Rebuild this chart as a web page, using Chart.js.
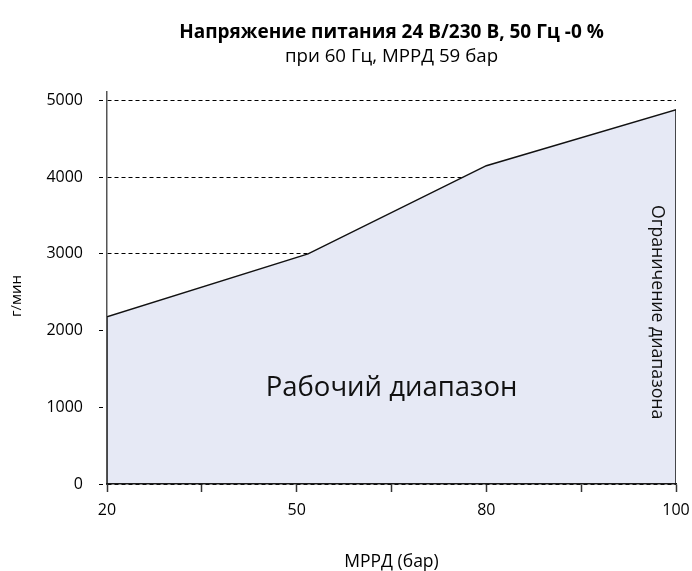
<!DOCTYPE html>
<html lang="ru">
<head>
<meta charset="utf-8">
<title>Рабочий диапазон</title>
<script src="https://cdn.jsdelivr.net/npm/chart.js@4/dist/chart.umd.min.js"></script>
<style>
  html, body { margin: 0; padding: 0; background: #ffffff; }
  #wrap { width: 692px; height: 571px; }
</style>
</head>
<body>
<div id="wrap"><canvas id="chart" width="692" height="571"></canvas></div>
<script>
// Evenly spaced x ticks; only every other one carries an MPRD label.
const categories = ['20', '', '50', '', '80', '', '100'];
// Upper boundary of the operating range: position on the tick grid and flow (г/мин).
const boundaryPos = [0, 2.12, 4, 6];
const boundaryFlow = [2180, 3000, 4150, 4880];
const yTicks = [0, 1000, 2000, 3000, 4000, 5000];
const yMax = 5110;

// Closed outline: floor at the left edge, upper boundary, floor at the right edge.
const outline = [{ x: boundaryPos[0], y: 0 }]
  .concat(boundaryPos.map((p, i) => ({ x: p, y: boundaryFlow[i] })))
  .concat([{ x: boundaryPos[boundaryPos.length - 1], y: 0 }]);

const FONT = "'Open Sans', 'Noto Sans', sans-serif";

const regionLabels = {
  id: 'regionLabels',
  afterDatasetsDraw(chart) {
    const { ctx, scales: { x, y } } = chart;
    ctx.save();
    ctx.fillStyle = '#111111';
    ctx.textAlign = 'center';
    ctx.textBaseline = 'middle';
    ctx.font = '27.5px ' + FONT;
    ctx.fillText('Рабочий диапазон', x.getPixelForValue(3), y.getPixelForValue(1250));
    ctx.translate(x.getPixelForValue(5.8), y.getPixelForValue(2240));
    ctx.rotate(Math.PI / 2);
    ctx.font = '17.7px ' + FONT;
    ctx.fillText('Ограничение диапазона', 0, 0);
    ctx.restore();
  },
  afterDraw(chart) {
    // y-axis caption, set slightly below the middle of the axis
    const { ctx, scales: { y } } = chart;
    ctx.save();
    ctx.fillStyle = '#000000';
    ctx.textAlign = 'center';
    ctx.textBaseline = 'middle';
    ctx.font = '15px ' + FONT;
    ctx.translate(17, y.getPixelForValue(2450));
    ctx.rotate(-Math.PI / 2);
    ctx.fillText('г/мин', 0, 0);
    ctx.restore();
  }
};

new Chart(document.getElementById('chart'), {
  type: 'line',
  data: {
    datasets: [{
      data: outline,
      borderColor: '#111111',
      borderWidth: 1.5,
      backgroundColor: '#e6e9f5',
      fill: 'origin',
      pointRadius: 0,
      tension: 0
    }]
  },
  options: {
    responsive: false,
    animation: false,
    layout: { padding: { left: 0, right: 16, top: 0, bottom: 0 } },
    plugins: {
      legend: { display: false },
      tooltip: { enabled: false },
      title: {
        display: true,
        fullSize: false,
        text: 'Напряжение питания 24 В/230 В, 50 Гц -0 %',
        color: '#000000',
        font: { family: FONT, size: 19, weight: 'bold', lineHeight: 1.2 },
        padding: { top: 21.6, bottom: 1.4 }
      },
      subtitle: {
        display: true,
        fullSize: false,
        text: 'при 60 Гц, МРРД 59 бар',
        color: '#000000',
        font: { family: FONT, size: 18.7, lineHeight: 1.2 },
        padding: { top: 0, bottom: 23.8 }
      }
    },
    scales: {
      x: {
        type: 'linear',
        min: 0,
        max: categories.length - 1,
        afterFit(scale) {
          scale.height = 87;
          scale.paddingLeft = 0;
          scale.paddingRight = 0;
        },
        ticks: {
          stepSize: 1,
          autoSkip: false,
          maxRotation: 0,
          padding: 9,
          color: '#000000',
          font: { family: FONT, size: 16 },
          callback: (v) => categories[v]
        },
        grid: {
          z: 1,
          drawOnChartArea: false,
          drawTicks: true,
          tickLength: 8,
          tickColor: '#333333',
          tickWidth: 1.5
        },
        border: { display: true, color: '#1a1a1a', width: 1.5, z: 1 },
        title: {
          display: true,
          text: 'МРРД (бар)',
          color: '#000000',
          font: { family: FONT, size: 17.5, lineHeight: 1.0 },
          padding: { top: 0, bottom: 0 }
        }
      },
      y: {
        min: 0,
        max: yMax,
        afterFit(scale) { scale.width = 107; },
        afterBuildTicks(scale) {
          scale.ticks = yTicks.map((v) => ({ value: v }));
        },
        ticks: {
          autoSkip: false,
          padding: 16,
          color: '#000000',
          font: { family: FONT, size: 16 },
          callback: (v) => String(v)
        },
        grid: {
          color: '#000000',
          lineWidth: 1,
          tickLength: 8,
          tickColor: '#000000',
          tickBorderDash: [4, 3],
          tickWidth: 1
        },
        border: { display: true, color: '#555555', width: 1.5, dash: [4, 3] },
        title: { display: false }
      }
    }
  },
  plugins: [regionLabels]
});
</script>
</body>
</html>
